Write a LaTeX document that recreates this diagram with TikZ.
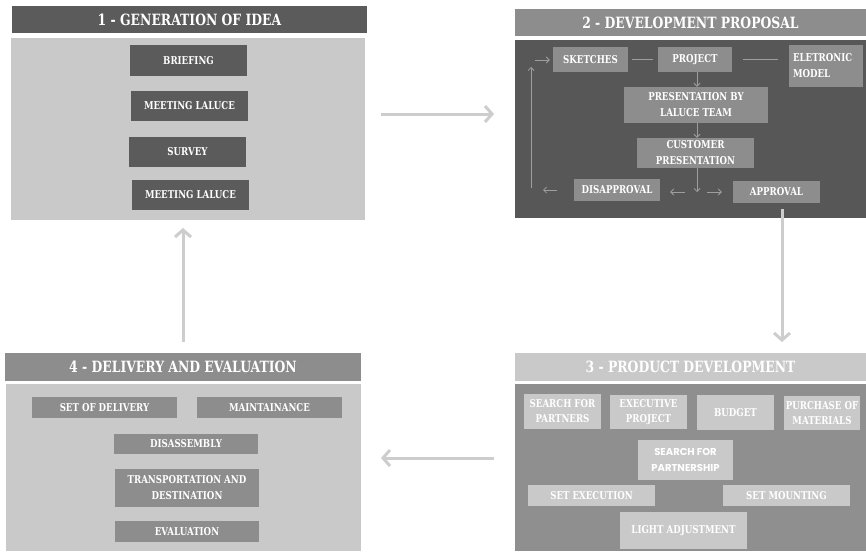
\documentclass[tikz,border=0pt]{standalone}
\usepackage{fontspec}
\setmainfont{DejaVu Serif}[FakeStretch=0.8]
\newfontfamily\partnerfont{Poppins}
\usetikzlibrary{arrows.meta}
\definecolor{gA}{HTML}{5B5B5B}
\definecolor{gB}{HTML}{8D8D8D}
\definecolor{gC}{HTML}{C9C9C9}
\definecolor{gD}{HTML}{575757}
\definecolor{gE}{HTML}{8F8F8F}
\definecolor{flow}{HTML}{CDCDCD}
\definecolor{thin}{HTML}{9E9E9E}
\tikzset{
  panel/.style={draw=none, inner sep=0pt, anchor=center},
  header/.style={panel, text=white, font=\bfseries\fontsize{15.5}{17}\selectfont},
  item/.style={draw=none, inner sep=0pt, text=white, align=center,
    font=\bfseries\fontsize{10.8}{16}\selectfont},
  bigflow/.style={draw=flow, line width=3pt,
    -{Straight Barb[length=7pt,width=16pt,line width=3pt]}},
  smallflow/.style={draw=thin, line width=0.8pt,
    -{Straight Barb[length=3pt,width=6pt]}},
  link/.style={draw=thin, line width=0.8pt},
}
\begin{document}
\begin{tikzpicture}[x=1pt,y=-1pt]
\useasboundingbox (0,0) rectangle (866,551);
\fill[white] (0,0) rectangle (866,551);

% ---------- 1 - generation of idea ----------
\node[header, fill=gA, minimum width=355, minimum height=27] (head1) at (189.5,19.5) {1 - GENERATION OF IDEA};
\node[panel, fill=gC, minimum width=354, minimum height=182] (body1) at (188,129) {};
\tikzset{itemA/.style={item, fill=gA, minimum width=117, minimum height=30}}
\node[itemA, minimum height=31] (brief) at (188.5,60.5) {BRIEFING};
\node[itemA] (meetA) at (189.5,106) {MEETING LALUCE};
\node[itemA] (survey) at (187.5,152) {SURVEY};
\node[itemA] (meetB) at (190.5,195) {MEETING LALUCE};

% ---------- 2 - development proposal ----------
\node[header, fill=gB, minimum width=351, minimum height=27] (head2) at (690.5,22.5) {2 - DEVELOPMENT PROPOSAL};
\node[panel, fill=gD, minimum width=351, minimum height=178] (body2) at (690.5,129) {};
\tikzset{itemB/.style={item, fill=gB}}
\node[itemB, minimum width=75, minimum height=25] (sketch) at (590.5,59.5) {SKETCHES};
\node[itemB, minimum width=74, minimum height=25] (project) at (695,59.5) {PROJECT};
\node[itemB, minimum width=74, minimum height=42, align=left, text width=66, inner sep=0pt] (elet) at (826,66) {ELETRONIC\\MODEL};
\node[itemB, minimum width=144, minimum height=36] (pres) at (696,105) {PRESENTATION BY\\LALUCE TEAM};
\node[itemB, minimum width=117, minimum height=30] (cust) at (695.5,153) {CUSTOMER\\PRESENTATION};
\node[itemB, minimum width=86, minimum height=22] (disap) at (617,190) {DISAPPROVAL};
\node[itemB, minimum width=87, minimum height=22] (approv) at (776.5,192) {APPROVAL};
\coordinate (split) at (697,192);
\coordinate (loopB) at (531,190);
\coordinate (loopT) at (531,60);

\draw[link, shorten <=4pt, shorten >=5pt] (sketch.east) -- (project.west);
\draw[link, shorten <=11pt, shorten >=11pt] (project.east) -- (project.east -| elet.west);
\draw[smallflow] (project.south -| split) -- (pres.north -| split);
\draw[smallflow] (pres.south -| split) -- (cust.north -| split);
\draw[smallflow] (cust.south -| split) -- (split);
\draw[smallflow, shorten <=12pt, shorten >=10pt] (split) -- (split -| disap.east);
\draw[smallflow, shorten <=10pt, shorten >=11pt] (split) -- (approv.west);
\draw[smallflow, shorten <=17pt, shorten >=12pt] (disap.west) -- (loopB);
\draw[smallflow, shorten <=2pt, shorten >=7pt] (loopB) -- (loopT);
\draw[smallflow, shorten <=4pt, shorten >=3pt] (loopT) -- (loopT -| sketch.west);

% ---------- 3 - product development ----------
\node[header, fill=gC, minimum width=351, minimum height=28] (head3) at (690.5,367) {3 - PRODUCT DEVELOPMENT};
\node[panel, fill=gE, minimum width=351, minimum height=167] (body3) at (690.5,467.5) {};
\tikzset{itemC/.style={item, fill=gC, font=\bfseries\fontsize{10.8}{15}\selectfont}}
\node[itemC, minimum width=77, minimum height=35] (partners) at (562.5,411.5) {SEARCH FOR\\PARTNERS};
\node[itemC, minimum width=77, minimum height=34] (exec) at (648.5,412) {EXECUTIVE\\PROJECT};
\node[itemC, minimum width=77, minimum height=35] (budget) at (735.5,412.5) {BUDGET};
\node[itemC, minimum width=76, minimum height=34] (purch) at (822,413) {PURCHASE OF\\MATERIALS};
\node[itemC, minimum width=95, minimum height=40, font=\partnerfont\bfseries\fontsize{10}{16}\selectfont] (partnership) at (685.5,460) {SEARCH FOR\\PARTNERSHIP};
\node[itemC, minimum width=127, minimum height=21] (setexec) at (591.5,495.5) {SET EXECUTION};
\node[itemC, minimum width=127, minimum height=21] (setmount) at (786.5,495.5) {SET MOUNTING};
\node[itemC, minimum width=127, minimum height=37] (light) at (683.5,530.5) {LIGHT ADJUSTMENT};

% ---------- 4 - delivery and evaluation ----------
\node[header, fill=gB, minimum width=356, minimum height=28] (head4) at (183,367) {4 - DELIVERY AND EVALUATION};
\node[panel, fill=gC, minimum width=355, minimum height=167] (body4) at (183.5,467.5) {};
\tikzset{itemD/.style={item, fill=gB, minimum width=145, minimum height=21}}
\node[itemD] (setdel) at (104.5,407.5) {SET OF DELIVERY};
\node[itemD] (maint) at (269.5,407.5) {MAINTAINANCE};
\node[itemD, minimum width=144, minimum height=20] (disas) at (186,444) {DISASSEMBLY};
\node[itemD, minimum width=144, minimum height=38] (transp) at (187,488) {TRANSPORTATION AND\\DESTINATION};
\node[itemD, minimum width=144] (evalu) at (187,531.5) {EVALUATION};

% ---------- cycle between the four stages ----------
\coordinate (oneOut) at (381,114);
\coordinate (twoIn) at (494,114);
\coordinate (twoOut) at (782,209);
\coordinate (threeIn) at (782,342);
\coordinate (threeOut) at (494,458);
\coordinate (fourIn) at (381,458);
\coordinate (fourOut) at (183,342);
\coordinate (oneIn) at (183,228);
\draw[bigflow] (oneOut) -- (twoIn);
\draw[bigflow] (twoOut) -- (threeIn);
\draw[bigflow] (threeOut) -- (fourIn);
\draw[bigflow] (fourOut) -- (oneIn);
\end{tikzpicture}
\end{document}
